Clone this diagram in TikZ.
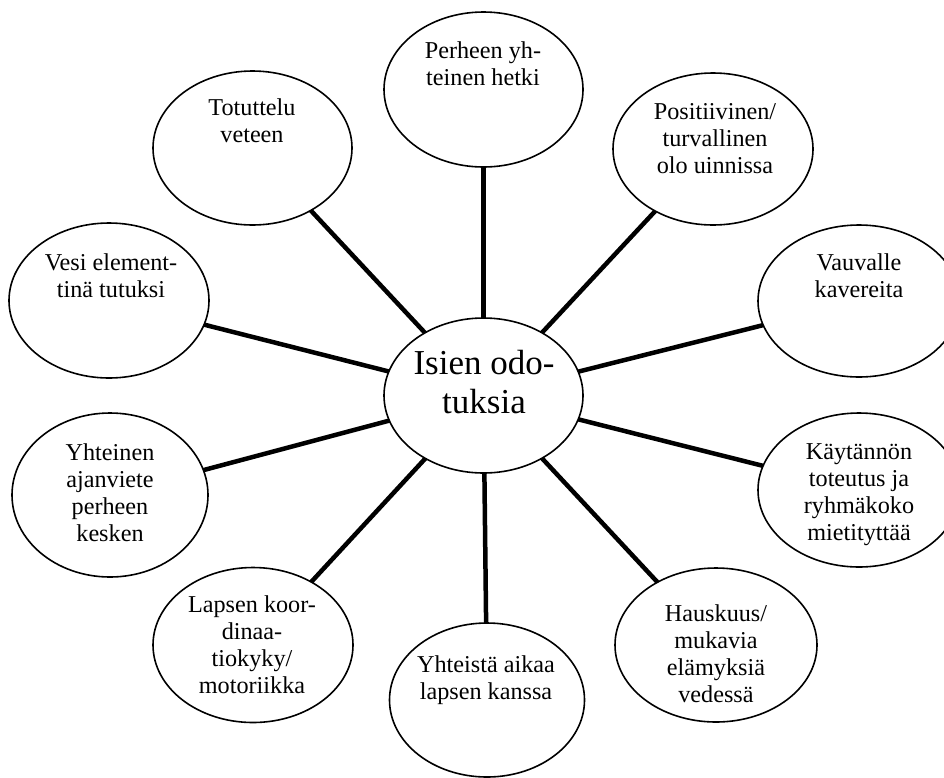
\documentclass[tikz,border=0pt]{standalone}
\usepackage{fontspec}
\setmainfont{Liberation Serif}
\usetikzlibrary{shapes.geometric}
\begin{document}
\begin{tikzpicture}[x=1pt,y=-1pt,
  bub/.style={ellipse,draw,line width=1.6pt,fill=white,inner sep=0pt,outer sep=0pt},
  lbl/.style={anchor=base,align=center,inner sep=0pt,font=\fontsize{24.2}{27}\selectfont},
  big/.style={anchor=base,align=center,inner sep=0pt,font=\fontsize{35}{39}\selectfont},
  spoke/.style={line width=4.5pt}]
\useasboundingbox (0,0) rectangle (944,777);
\clip (0,0) rectangle (944,777);
\node[bub,minimum width=199pt,minimum height=155pt] (c) at (483.5,395.5) {};
\node[bub,minimum width=199pt,minimum height=155pt] (e1) at (483.5,89.5) {};
\node[bub,minimum width=199pt,minimum height=154pt] (e2) at (252.5,148) {};
\node[bub,minimum width=200pt,minimum height=152pt] (e3) at (713,149) {};
\node[bub,minimum width=202pt,minimum height=152pt] (e4) at (859,301) {};
\node[bub,minimum width=200pt,minimum height=155pt] (e5) at (109,300.5) {};
\node[bub,minimum width=196pt,minimum height=164pt] (e7) at (110,495) {};
\node[bub,minimum width=202pt,minimum height=154pt] (e8) at (859,490) {};
\node[bub,minimum width=200pt,minimum height=155pt] (e9) at (253,645) {};
\node[bub,minimum width=195pt,minimum height=154pt] (e10) at (487,700) {};
\node[bub,minimum width=202pt,minimum height=154pt] (e11) at (716,645) {};
\foreach \n in {e1,e2,e3,e4,e5,e7,e8,e9,e10,e11}
  \draw[spoke] (c) -- (\n);
\node[big] (tc) at (484,413) {Isien odo-\\tuksia};
\node[lbl] (t1) at (483,85) {Perheen yh-\\teinen hetki};
\node[lbl] (t2) at (252,142.5) {Totuttelu\\veteen};
\node[lbl] (t3) at (715,173) {Positiivinen/\\turvallinen\\olo uinnissa};
\node[lbl] (t4) at (859,297) {Vauvalle\\kavereita};
\node[lbl] (t5) at (111,297) {Vesi element-\\tinä tutuksi};
\node[lbl] (t7) at (110,541) {Yhteinen\\ajanviete\\perheen\\kesken};
\node[lbl] (t8) at (859,540) {Käytännön\\toteutus ja\\ryhmäkoko\\mietityttää};
\node[lbl] (t9) at (252,693) {Lapsen koor-\\dinaa-\\tiokyky/\\motoriikka};
\node[lbl] (t10) at (486,699) {Yhteistä aikaa\\lapsen kanssa};
\node[lbl] (t11) at (716,702) {Hauskuus/\\mukavia\\elämyksiä\\vedessä};
\end{tikzpicture}
\end{document}
